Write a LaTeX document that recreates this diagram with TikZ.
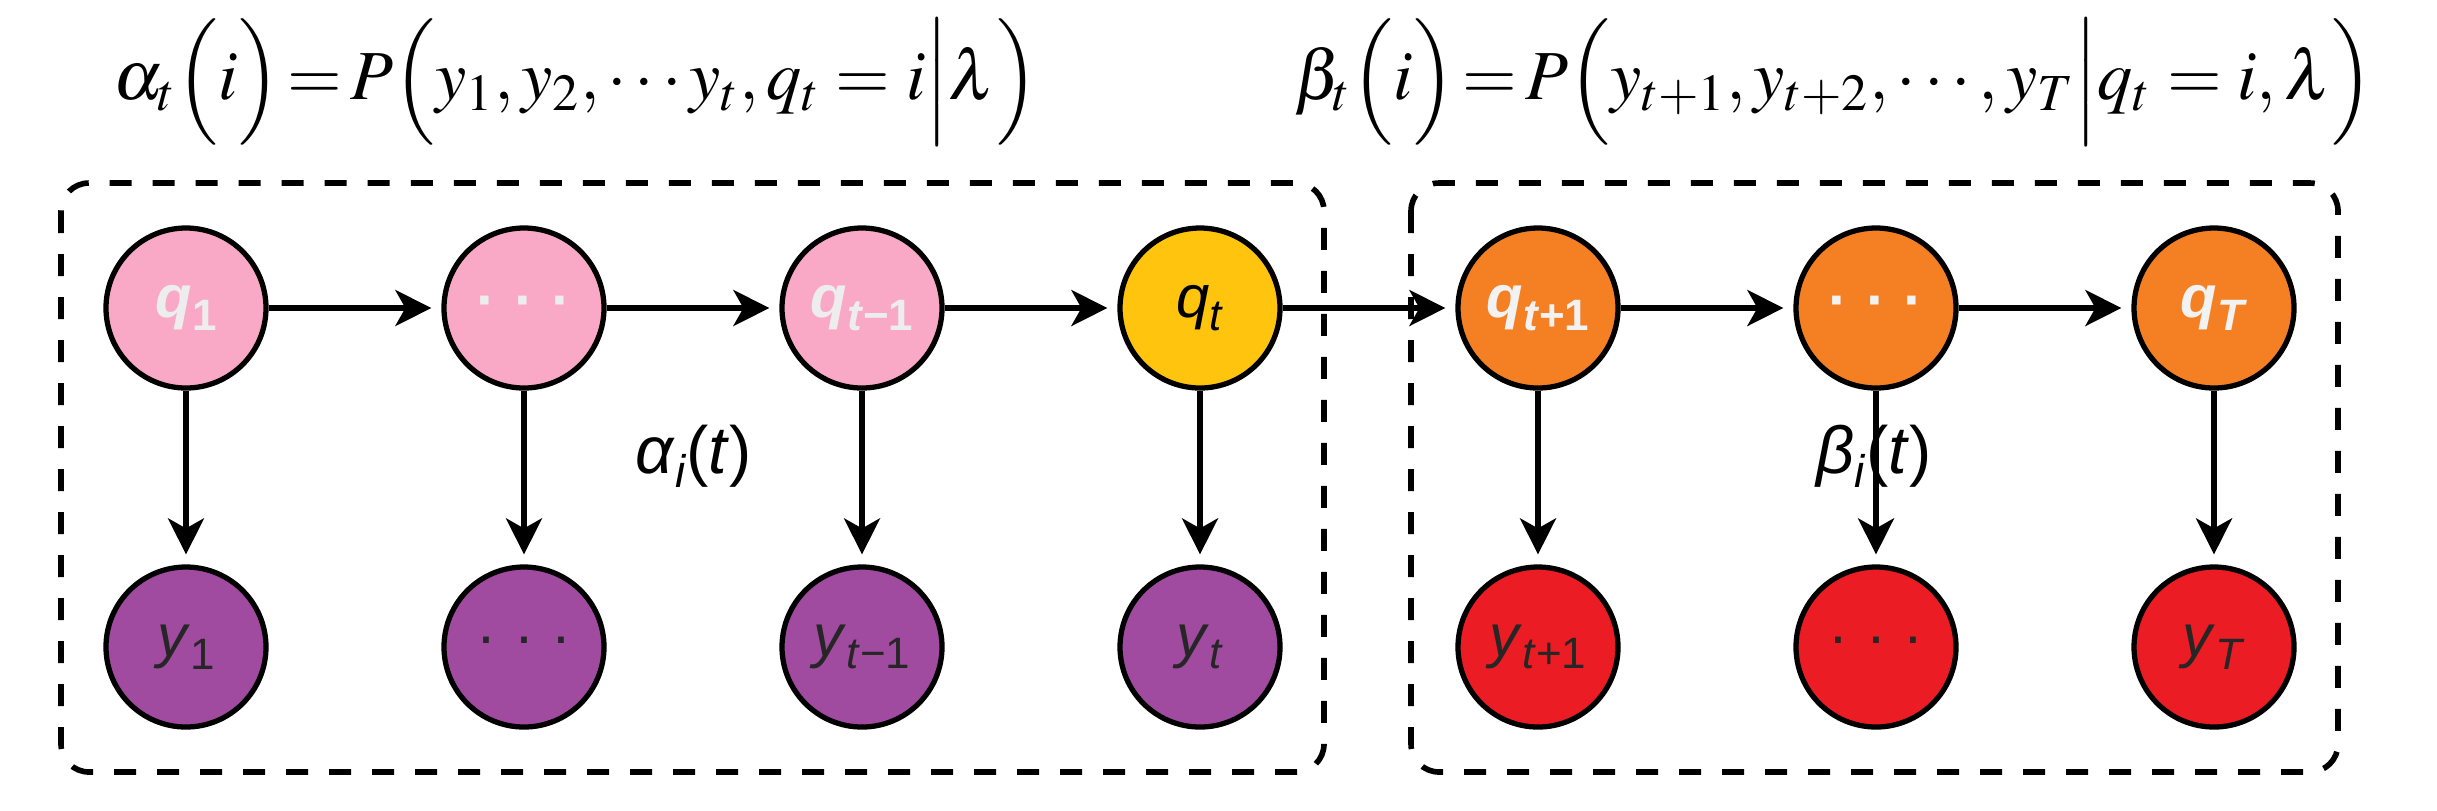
\documentclass[tikz,border=0pt]{standalone}
\usepackage{fontspec}
\setsansfont{Liberation Sans}
\usepackage{mathptmx}
\usetikzlibrary{arrows.meta}
\definecolor{pinkc}{RGB}{249,169,198}
\definecolor{yellc}{RGB}{255,196,14}
\definecolor{orgc}{RGB}{245,128,36}
\definecolor{purc}{RGB}{160,74,160}
\definecolor{redc}{RGB}{236,28,36}
\newcommand{\lb}[2]{\textit{#1}\raisebox{-0.4ex}{\fontsize{12.5}{12.5}\selectfont #2}}
\newcommand{\ddd}{·\hspace{0.3em}·\hspace{0.3em}·}
\tikzset{
  st/.style={circle, draw=black, line width=1.5pt, minimum size=1.6cm, inner sep=0pt,
             font=\sffamily\fontsize{17}{17}\selectfont},
  pk/.style={st, fill=pinkc, text=white!93!black, font=\sffamily\bfseries\fontsize{17}{17}\selectfont},
  ye/.style={st, fill=yellc, text=black},
  og/.style={st, fill=orgc, text=white!95!black, font=\sffamily\bfseries\fontsize{17}{17}\selectfont},
  pu/.style={st, fill=purc, text=black!85},
  rd/.style={st, fill=redc, text=black!85},
  arr/.style={-{Stealth[length=0.36cm,width=0.36cm,inset=0.1cm]}, line width=1.5pt, shorten >=0.1cm},
  dbox/.style={draw=black, line width=1.6pt, dash pattern=on 0.22cm off 0.21cm, rounded corners=0.28cm},
  formula/.style={inner sep=0pt, font=\fontsize{20}{24}\selectfont},
  glabel/.style={inner sep=0pt, font=\sffamily\fontsize{19}{22}\selectfont}
}
\begin{document}
\begin{tikzpicture}[x=1cm,y=1cm]
\useasboundingbox (0,0) rectangle (24.37,-8.10);
% dashed boxes
\draw[dbox] (0.61,-1.83) rectangle (13.24,-7.72);
\draw[dbox] (14.11,-1.83) rectangle (23.38,-7.72);
% formulas
\node[formula] (fa) at (5.76,-0.82) {$\alpha_t\Bigl(i\Bigr)\!=\!P\Bigl(y_1,y_2,\cdots y_t,q_t=i{\Big|}\lambda\Bigr)$};
\node[formula] (fb) at (18.34,-0.82) {$\beta_t\Bigl(i\Bigr)\!=\!P\Bigl(y_{t+1},y_{t+2},\cdots,y_T{\Big|}q_t=i,\lambda\Bigr)$};
% hidden states
\node[pk] (q1) at (1.86,-3.08) {\lb{q}{1}};
\node[pk] (q2) at (5.24,-3.08) {\ddd};
\node[pk] (q3) at (8.62,-3.08) {\lb{q}{\textit{t}−1}};
\node[ye] (q4) at (12.00,-3.08) {\lb{q}{\textit{t}}};
\node[og] (q5) at (15.38,-3.08) {\lb{q}{\textit{t}+1}};
\node[og] (q6) at (18.76,-3.08) {\ddd};
\node[og] (q7) at (22.14,-3.08) {\lb{q}{\textit{T}}};
% observations
\node[pu] (y1) at (1.86,-6.47) {\lb{y}{1}};
\node[pu] (y2) at (5.24,-6.47) {\ddd};
\node[pu] (y3) at (8.62,-6.47) {\lb{y}{\textit{t}−1}};
\node[pu] (y4) at (12.00,-6.47) {\lb{y}{\textit{t}}};
\node[rd] (y5) at (15.38,-6.47) {\lb{y}{\textit{t}+1}};
\node[rd] (y6) at (18.76,-6.47) {\ddd};
\node[rd] (y7) at (22.14,-6.47) {\lb{y}{\textit{T}}};
% connectors
\foreach \a/\b in {q1/q2,q2/q3,q3/q4,q4/q5,q5/q6,q6/q7}
  \draw[arr] (\a) -- (\b);
\foreach \i in {1,...,7}
  \draw[arr] (q\i) -- (y\i);
% labels
\node[glabel] (la) at (6.94,-4.56) {\textit{α}\raisebox{-0.4ex}{\fontsize{13}{13}\selectfont\textit{i}}(\textit{t})};
\node[glabel] (lb) at (18.74,-4.56) {\textit{β}\raisebox{-0.4ex}{\fontsize{13}{13}\selectfont\textit{i}}(\textit{t})};
\end{tikzpicture}
\end{document}
